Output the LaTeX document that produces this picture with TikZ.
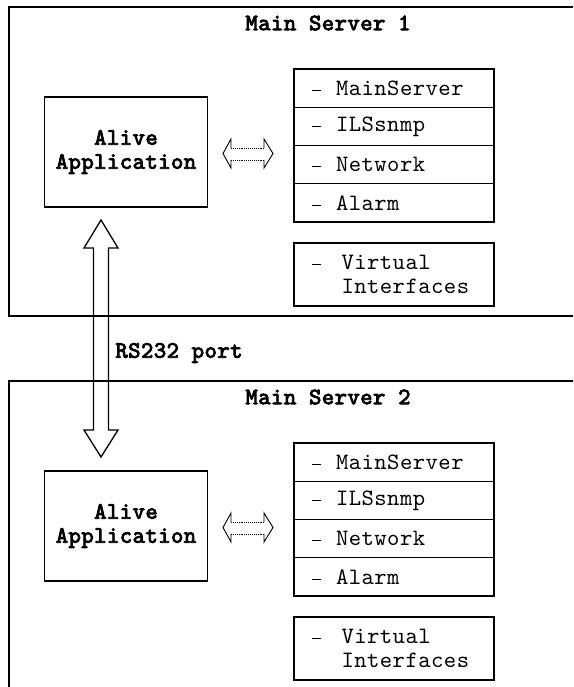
\documentclass[tikz,border=0pt]{standalone}
\usepackage{fontspec}
\setmonofont{lmmono10-regular}[Extension=.otf,LetterSpace=2.0,
  BoldFont=lmmono10-regular,BoldFeatures={FakeBold=3.5}]
\usetikzlibrary{calc}
\newcommand\txtsize{\fontsize{23.5}{24.5}\selectfont}
% list bullet: a dash followed by the gap before the item text
\newcommand\itemdash[1]{\makebox[#1][l]{\hspace{2pt}\rule[4.6pt]{9pt}{0.9pt}}}
\begin{document}
\begin{tikzpicture}[x=1pt,y=-1pt,line width=1.3pt,
  every node/.style={font=\ttfamily\txtsize},
  frame/.style={draw,rectangle,inner sep=0pt,outer sep=0pt,anchor=north west,
    minimum width=600pt,minimum height=309pt},
  title/.style={font=\ttfamily\bfseries\txtsize,inner sep=0pt},
  appbox/.style={draw,rectangle,outer sep=0pt,minimum width=163pt,minimum height=110pt,
    align=center,font=\ttfamily\bfseries\fontsize{23.5}{24}\selectfont},
  row/.style={draw,rectangle,outer sep=0pt,inner ysep=0pt,minimum height=38.25pt,
    inner xsep=16pt,text width=168pt,align=left,anchor=north west},
  vbox/.style={row,minimum height=63pt},
  head/.style={line width=0.9pt},
  shaft/.style={line width=0.9pt,densely dotted}]
\useasboundingbox (0,0) rectangle (573,687);
\clip (0,0) rectangle (573,687);

\foreach \s/\dy in {1/0,2/374}{
  \begin{scope}[shift={(0,\dy)}]
    % server frame (runs off the right edge)
    \node[frame] (srv\s) at (9,7) {};
    \node[title] (ttl\s) at (328,23) {Main Server \s};
    % application box
    \node[appbox] (app\s) at (126,152) {Alive\\Application};
    % module list
    \node[row] (m\s a) at (294,69) {\itemdash{26pt}MainServer};
    \node[row] (m\s b) at (m\s a.south west) {\itemdash{26pt}ILSsnmp};
    \node[row] (m\s c) at (m\s b.south west) {\itemdash{26pt}Network};
    \node[row] (m\s d) at (m\s c.south west) {\itemdash{26pt}Alarm};
    \node[vbox] (vi\s) at (294,243)
      {\itemdash{31.5pt}Virtual\\\hspace*{31.5pt}Interfaces};
    % hollow two-way arrow between application and modules
    \coordinate (l\s) at ($(app\s.east)+(15.5,1.5)$);
    \coordinate (r\s) at ($(l\s)+(50,0)$);
    \draw[head] ($(l\s)+(8,-5.5)$) -- ($(l\s)+(8,-14.5)$) -- (l\s)
      -- ($(l\s)+(8,14.5)$) -- ($(l\s)+(8,6.5)$);
    \draw[head] ($(r\s)+(-9,-5.5)$) -- ($(r\s)+(-9,-14.5)$) -- (r\s)
      -- ($(r\s)+(-9,14.5)$) -- ($(r\s)+(-9,6.5)$);
    \draw[shaft] ($(l\s)+(8,-5.5)$) -- ($(r\s)+(-9,-5.5)$);
    \draw[shaft] ($(l\s)+(8,6.5)$) -- ($(r\s)+(-9,6.5)$);
  \end{scope}
}

% RS232 link between the two applications
\coordinate (rsTop) at ($(app1.south)+(-25,13)$);
\coordinate (rsBot) at ($(app2.north)+(-25,-14)$);
\draw (rsTop) -- ($(rsTop)+(17,28)$) -- ($(rsTop)+(7.5,28)$)
  -- ($(rsBot)+(7.5,-27)$) -- ($(rsBot)+(17,-27)$) -- (rsBot)
  -- ($(rsBot)+(-17,-27)$) -- ($(rsBot)+(-7.5,-27)$)
  -- ($(rsTop)+(-7.5,28)$) -- ($(rsTop)+(-17,28)$) -- cycle;
\node[title] (rs) at (179,353) {RS232 port};
\end{tikzpicture}
\end{document}
